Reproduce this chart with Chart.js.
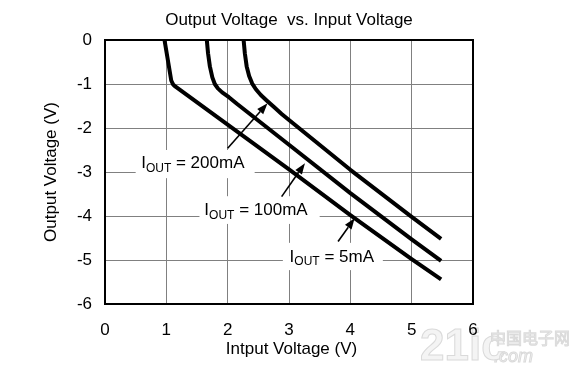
<!DOCTYPE html>
<html>
<head>
<meta charset="utf-8">
<script src="https://cdn.jsdelivr.net/npm/chart.js@4.4.0/dist/chart.umd.min.js"></script>
<style>
  html, body { margin: 0; padding: 0; background: #fff; }
</style>
</head>
<body>
<canvas id="chart" width="569" height="371"></canvas>
<script>
// Values
const vin5mA   = [0.97, 1.03, 1.08, 1.11, 1.15, 3.0, 4.0, 5.0, 5.48];
const vout5mA  = [0, -0.50, -0.92, -1.01, -1.06, -2.94, -3.98, -4.98, -5.44];

const vin100mA  = [1.66, 1.68, 1.71, 1.75, 1.79, 1.84, 1.91, 2.02, 2.15, 3.0, 4.0, 5.0, 5.48];
const vout100mA = [0, -0.30, -0.60, -0.85, -1.00, -1.10, -1.19, -1.30, -1.45, -2.38, -3.48, -4.53, -5.02];

const vin200mA  = [2.26, 2.28, 2.31, 2.35, 2.40, 2.46, 2.54, 2.64, 2.76, 2.88, 3.0, 4.0, 5.0, 5.48];
const vout200mA = [0, -0.30, -0.60, -0.82, -0.99, -1.12, -1.25, -1.38, -1.53, -1.68, -1.82, -2.95, -4.02, -4.52];

const xRange = [0, 6];
const yRange = [-6, 0];

const FONT = "'Liberation Sans', Arial, sans-serif";

function toPoints(xs, ys) {
    return xs.map((x, i) => ({ x: x, y: ys[i] }));
}

// Callout labels (data units)
const notes = [
    { value: '200mA', at: [0.59, -2.92], box: [0.50, -2.50, 2.44, -3.14], from: [2.00, -2.46], to: [2.65, -1.44] },
    { value: '100mA', at: [1.62, -3.98], box: [1.54, -3.55, 3.50, -4.18], from: [2.88, -3.56], to: [3.26, -2.80] },
    { value: '5mA',   at: [3.01, -5.04], box: [2.90, -4.61, 4.53, -5.23], from: [3.80, -4.58], to: [4.07, -4.05] }
];

function drawArrow(ctx, x1, y1, x2, y2) {
    const a = Math.atan2(y2 - y1, x2 - x1);
    const len = 11, half = 4;
    const bx = x2 - len * Math.cos(a), by = y2 - len * Math.sin(a);
    ctx.lineWidth = 1.6;
    ctx.beginPath();
    ctx.moveTo(x1, y1);
    ctx.lineTo(bx, by);
    ctx.stroke();
    ctx.beginPath();
    ctx.moveTo(x2, y2);
    ctx.lineTo(bx + half * Math.sin(a), by - half * Math.cos(a));
    ctx.lineTo(bx - half * Math.sin(a), by + half * Math.cos(a));
    ctx.closePath();
    ctx.fill();
}

function drawNote(ctx, x, y, value) {
    ctx.textAlign = 'left';
    ctx.textBaseline = 'alphabetic';
    ctx.font = '17px ' + FONT;
    ctx.fillText('I', x, y);
    let w = ctx.measureText('I').width;
    ctx.font = '12px ' + FONT;
    ctx.fillText('OUT', x + w, y + 3.5);
    w += ctx.measureText('OUT').width;
    ctx.font = '17px ' + FONT;
    ctx.fillText(' = ' + value, x + w, y);
}

const decorations = {
    id: 'decorations',
    beforeDraw(chart) {
        const ctx = chart.ctx;
        ctx.save();
        ctx.fillStyle = '#fff';
        ctx.fillRect(0, 0, chart.width, chart.height);
        // faint site watermark
        ctx.fillStyle = '#f4f4f4';
        ctx.strokeStyle = '#dadada';
        ctx.lineWidth = 1;
        ctx.textBaseline = 'alphabetic';
        ctx.textAlign = 'left';
        ctx.font = "bold 44px 'Liberation Sans Narrow', 'Liberation Sans', sans-serif";
        ctx.fillText('21ic', 420, 360);
        ctx.strokeText('21ic', 420, 360);
        ctx.font = "16px 'Noto Sans CJK SC', sans-serif";
        ctx.fillText('中国电子网', 490, 344);
        ctx.strokeText('中国电子网', 490, 344);
        ctx.font = "italic 18px " + FONT;
        ctx.fillText('.com', 494, 362);
        ctx.strokeText('.com', 494, 362);
        ctx.restore();
    },
    beforeDatasetsDraw(chart) {
        const ctx = chart.ctx, xs = chart.scales.x, ys = chart.scales.y;
        ctx.save();
        ctx.fillStyle = '#fff';
        notes.forEach(n => {
            const x1 = xs.getPixelForValue(n.box[0]), y1 = ys.getPixelForValue(n.box[1]);
            const x2 = xs.getPixelForValue(n.box[2]), y2 = ys.getPixelForValue(n.box[3]);
            ctx.fillRect(x1, y1, x2 - x1, y2 - y1);
        });
        ctx.restore();
    },
    afterDatasetsDraw(chart) {
        const ctx = chart.ctx, xs = chart.scales.x, ys = chart.scales.y;
        const area = chart.chartArea;
        ctx.save();
        ctx.strokeStyle = '#000';
        ctx.fillStyle = '#000';
        ctx.lineWidth = 2;
        ctx.strokeRect(area.left, area.top, area.right - area.left, area.bottom - area.top);
        notes.forEach(n => {
            drawNote(ctx, xs.getPixelForValue(n.at[0]), ys.getPixelForValue(n.at[1]), n.value);
            drawArrow(ctx,
                xs.getPixelForValue(n.from[0]), ys.getPixelForValue(n.from[1]),
                xs.getPixelForValue(n.to[0]), ys.getPixelForValue(n.to[1]));
        });
        ctx.restore();
    },
    afterDraw(chart) {
        const ctx = chart.ctx;
        ctx.save();
        ctx.fillStyle = '#000';
        ctx.font = '17px ' + FONT;
        ctx.textAlign = 'center';
        ctx.textBaseline = 'alphabetic';
        ctx.fillText('Output Voltage  vs. Input Voltage', 289, 25);
        ctx.fillText('Intput Voltage (V)', 291.5, 354);
        ctx.translate(55.5, 172);
        ctx.rotate(-Math.PI / 2);
        ctx.fillText('Output Voltage (V)', 0, 0);
        ctx.restore();
    }
};

const lineStyle = {
    borderColor: '#000',
    borderWidth: 4,
    borderJoinStyle: 'round',
    pointRadius: 0,
    fill: false,
    tension: 0
};

new Chart(document.getElementById('chart').getContext('2d'), {
    type: 'line',
    data: {
        datasets: [
            Object.assign({ label: 'IOUT = 5mA', data: toPoints(vin5mA, vout5mA) }, lineStyle),
            Object.assign({ label: 'IOUT = 100mA', data: toPoints(vin100mA, vout100mA) }, lineStyle),
            Object.assign({ label: 'IOUT = 200mA', data: toPoints(vin200mA, vout200mA) }, lineStyle)
        ]
    },
    options: {
        responsive: false,
        animation: false,
        layout: { padding: { top: 40, right: 96, left: 0, bottom: 0 } },
        plugins: {
            legend: { display: false },
            tooltip: { enabled: false }
        },
        scales: {
            x: {
                type: 'linear',
                min: xRange[0],
                max: xRange[1],
                afterFit: scale => { scale.height = 67; },
                grid: { color: '#808080', lineWidth: 1, drawTicks: false },
                border: { display: false },
                ticks: {
                    stepSize: 1,
                    padding: 16,
                    color: '#000',
                    font: { family: FONT, size: 17 }
                }
            },
            y: {
                type: 'linear',
                min: yRange[0],
                max: yRange[1],
                afterFit: scale => { scale.width = 105; },
                grid: { color: '#808080', lineWidth: 1, drawTicks: false },
                border: { display: false },
                ticks: {
                    stepSize: 1,
                    padding: 13,
                    color: '#000',
                    font: { family: FONT, size: 17 }
                }
            }
        }
    },
    plugins: [decorations]
});
</script>
</body>
</html>
